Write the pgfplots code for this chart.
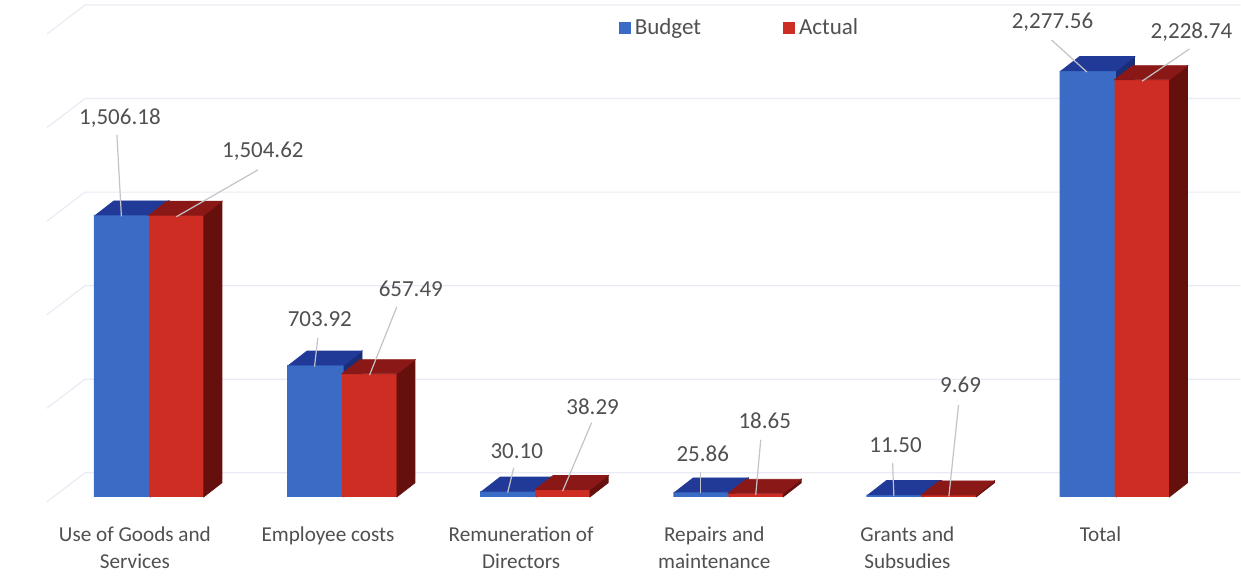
\documentclass[border=0pt]{standalone}
\usepackage{pgfplots}
\usepackage{pgfplotstable}
\pgfplotsset{compat=1.18}
\usepackage{fontspec}
\setmainfont{Carlito}

\definecolor{bF}{RGB}{58,108,198}
\definecolor{bT}{RGB}{33,58,152}
\definecolor{bS}{RGB}{25,45,120}
\definecolor{rF}{RGB}{205,45,35}
\definecolor{rT}{RGB}{138,24,22}
\definecolor{rS}{RGB}{102,16,14}
\definecolor{txt}{RGB}{80,80,80}
\definecolor{leader}{RGB}{195,195,200}
\definecolor{gridc}{RGB}{234,234,244}

\newcommand\fs{\fontsize{11.5}{13.5}\selectfont}
\newcommand\fc{\fontsize{10.6}{13.5}\selectfont}
% canvas length of one data unit on the y axis (pt)
\def\yunit{0.0935977}

\pgfkeys{/pgf/number format/assume math mode=true}
\pgfdeclareplotmark{blank}{}

\pgfplotstableread{
i  b       a
0  1506.18 1504.62
1  703.92  657.49
2  30.10   38.29
3  25.86   18.65
4  11.50   9.69
5  2277.56 2228.74
}\data

% label placement per category (px, relative to bar top):
% leader start x/y, label centre x/y
\def\bsx{-4.5,3.3,6.1,0.0,-1.3,-35.5}
\def\bsy{80.0,27.2,23.4,20.0,31.8,30.6}
\def\blx{-1.5,5.3,9.1,2.0,1.7,-34.5}
\def\bly{97.0,46.2,40.4,38.0,49.8,48.6}
\def\asx{81.5,27.3,29.0,5.0,9.7,47.5}
\def\asy{45.3,66.9,67.0,53.5,90.2,30.8}
\def\alx{86.5,41.3,30.0,9.0,11.7,49.5}
\def\aly{64.3,84.9,83.0,72.5,110.2,47.8}

\pgfplotsset{
  % top face and side face of a bar; #1 front offset, #2 top colour, #3 side colour
  barfaces/.style n args={3}{
    forget plot, only marks, mark=blank, scatter,
    visualization depends on={rawy \as \barv},
    scatter/@pre marker code/.code={
      \pgfmathsetmacro\barh{\barv*\yunit}
      \fill[#3] ({#1+13.75pt},0pt) -- ++(9pt,7pt) -- ++(0pt,{-\barh*1pt}) -- ++(-9pt,-7pt) -- cycle;
      \fill[#2] ({#1-13.75pt},0pt) -- ({#1+13.75pt},0pt) -- ++(9pt,7pt) -- ++(-27.5pt,0pt) -- cycle;
    },
    scatter/@post marker code/.code={},
  },
  % value label with its leader line; #1 front offset, #2 series prefix
  barlabel/.style n args={2}{
    forget plot, only marks, mark=blank, scatter,
    visualization depends on={rawy \as \barv},
    visualization depends on={rawx \as \idx},
    scatter/@pre marker code/.code={
      \pgfmathsetmacro\lsx{{\csname #2sx\endcsname}[int(\idx)]}
      \pgfmathsetmacro\lsy{{\csname #2sy\endcsname}[int(\idx)]}
      \pgfmathsetmacro\llx{{\csname #2lx\endcsname}[int(\idx)]}
      \pgfmathsetmacro\lly{{\csname #2ly\endcsname}[int(\idx)]}
      \draw[leader, line width=0.6pt] ({#1+\lsx*0.5pt},{\lsy*0.5pt}) -- ({#1},-0.75pt);
      \node[text=txt, font=\fs, inner sep=0pt] at ({#1+\llx*0.5pt},{\lly*0.5pt})
        {\pgfmathprintnumber[fixed, fixed zerofill, precision=2, 1000 sep={,}]{\barv}};
    },
    scatter/@post marker code/.code={},
  },
}

\begin{document}
\begin{tikzpicture}
\begin{axis}[
  scale only axis, width=620.5pt, height=288pt,
  xmin=-0.771, xmax=5.652, ymin=-422, ymax=2655,
  axis line style={draw=none}, tick style={draw=none},
  major tick length=0pt,
  ytick=\empty,
  xtick={0,...,5},
  xticklabels={{Use of Goods and\\Services},{Employee costs},{Remuneration of\\Directors},{Repairs and\\maintenance},{Grants and\\Subsudies},{Total}},
  xticklabel style={align=center, anchor=north, yshift=24.5pt, xshift=-7pt, inner sep=0pt, text=txt, font=\fc},
  clip=false, clip mode=individual,
  legend columns=2,
  legend style={draw=none, fill=none, at={(rel axis cs:0.597,0.951)}, anchor=center,
    font=\fs, text=txt, inner sep=0pt,
    /tikz/every even column/.append style={column sep=39pt}},
]
% background grid on the back wall
\pgfplotsinvokeforeach{0,500,1000,1500,2000,2500}{
  \draw[gridc, line width=0.6pt] (axis cs:-0.528,#1-27) -- (axis cs:-0.331,#1+128) -- (axis cs:5.652,#1+128);
}

% Budget (front face reaches slightly under the Actual front face)
\addplot[ybar, bar width=28.5pt, bar shift=-13.25pt, fill=bF, draw=none,
  legend image code/.code={\fill[bF] (0pt,-3pt) rectangle (6pt,3pt);}]
  table[x=i, y=b] {\data};
\addlegendentry{Budget}
\addplot[barfaces={-12.75pt}{bT}{bS}] table[x=i, y=b] {\data};

% Actual
\addplot[ybar, bar width=27.5pt, bar shift=13.75pt, fill=rF, draw=none,
  legend image code/.code={\fill[rF] (0pt,-3pt) rectangle (6pt,3pt);}]
  table[x=i, y=a] {\data};
\addlegendentry{Actual}
\addplot[barfaces={13.75pt}{rT}{rS}] table[x=i, y=a] {\data};

% value labels
\addplot[barlabel={-13.75pt}{b}] table[x=i, y=b] {\data};
\addplot[barlabel={13.75pt}{a}] table[x=i, y=a] {\data};
\end{axis}
\end{tikzpicture}
\end{document}
